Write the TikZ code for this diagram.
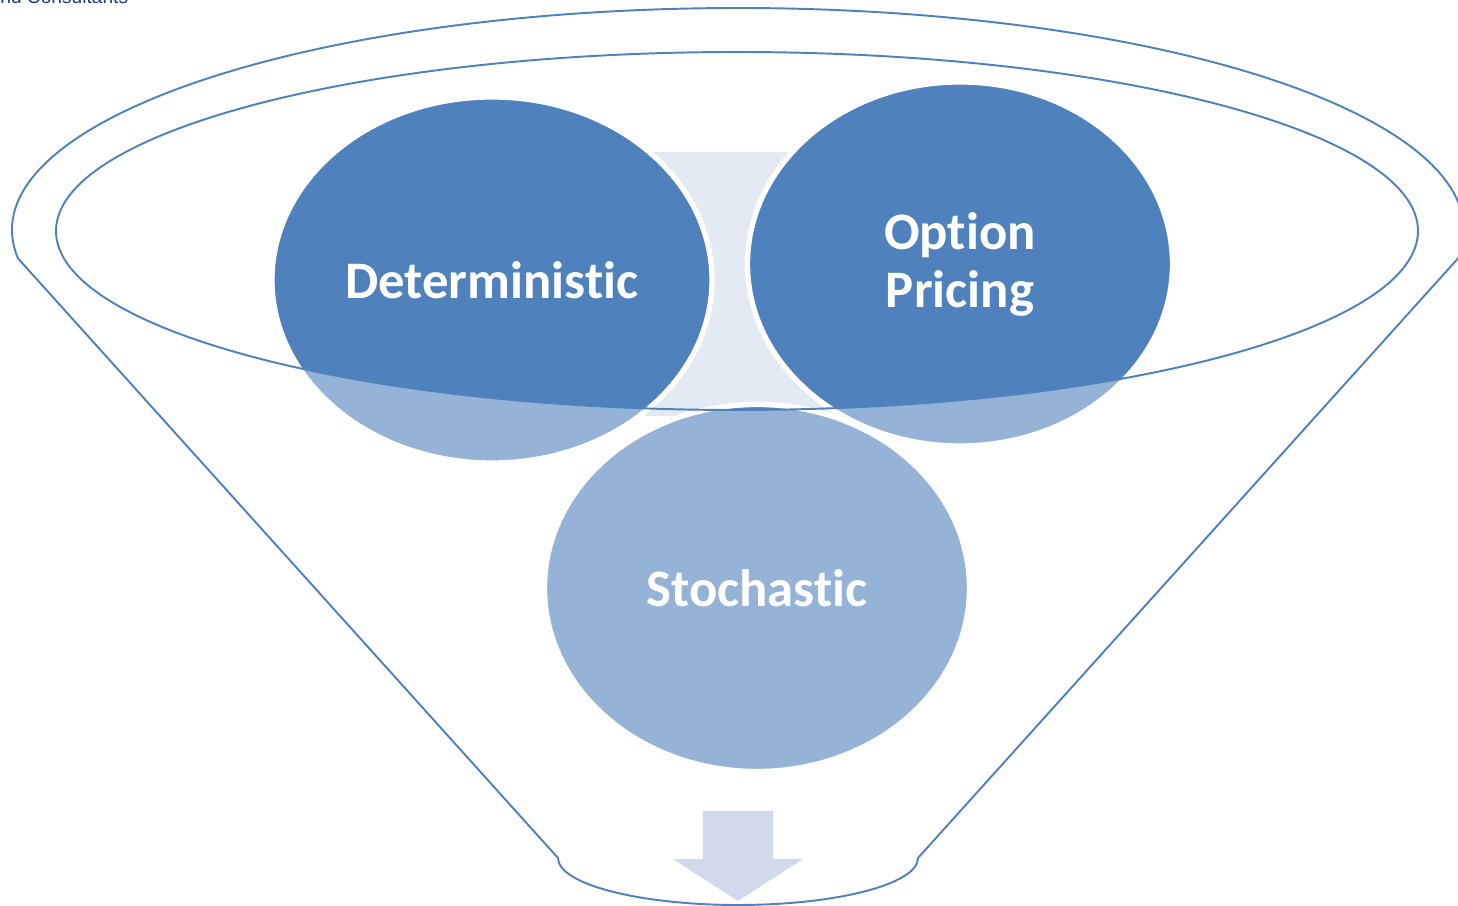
\documentclass[tikz,border=0pt]{standalone}
\usepackage{fontspec}
\setmainfont{Carlito}[Ligatures=NoCommon]
\newfontfamily\firmfont{Liberation Sans}
\usetikzlibrary{shapes.geometric}
\definecolor{deep}{HTML}{4F81BD}
\definecolor{pale}{HTML}{95B3D7}
\definecolor{haze}{HTML}{E4EAF4}
\definecolor{arrowfill}{HTML}{D0DAEA}
\definecolor{navy}{HTML}{1F3A78}
\tikzset{
  rim/.style={draw=deep, line width=0.55pt},
  bubble/.style={ellipse, inner sep=0pt, draw=white, line width=1.5pt, fill=pale, text=white,
    font=\bfseries\fontsize{15}{16.5}\selectfont, align=center,
    path picture={\fill[deep] (fc) ellipse [x radius=68.1mm, y radius=17.9mm];}}
}
\begin{document}
\begin{tikzpicture}[x=0.1mm,y=-0.1mm]
\useasboundingbox (0,0) rectangle (1458,906);
\coordinate (fc) at (737,231);
\coordinate (fo) at (738,230);

\node[anchor=base west, text=navy, font=\firmfont\fontsize{5.45}{6}\selectfont, inner sep=0pt] (firm) at (-11,4) {and Consultants};

\fill[haze] (640,152) -- (800,152) -- (845,416) -- (645,416) -- cycle;

\node[bubble, minimum width=44mm, minimum height=36.6mm] (det) at (492,280) {Deterministic};
\node[bubble, minimum width=42.5mm, minimum height=36.4mm] (opt) at (960,264) {Option\\Pricing};
\node[bubble, minimum width=42.5mm, minimum height=36.7mm] (sto) at (757,588) {Stochastic};

\draw[rim] (fc) ellipse [x radius=68.1mm, y radius=17.9mm];
\draw[rim] ([shift={(187.35:72.6mm and 22.2mm)}]fo) arc [start angle=187.35, end angle=-7.35, x radius=72.6mm, y radius=22.2mm]
  -- (918,858) arc [start angle=0, end angle=-180, x radius=18mm, y radius=4.7mm] -- cycle;

\fill[arrowfill] (703,811) -- (773,811) -- (773,859) -- (803,859) -- (738,901) -- (673,859) -- (703,859) -- cycle;
\end{tikzpicture}
\end{document}
